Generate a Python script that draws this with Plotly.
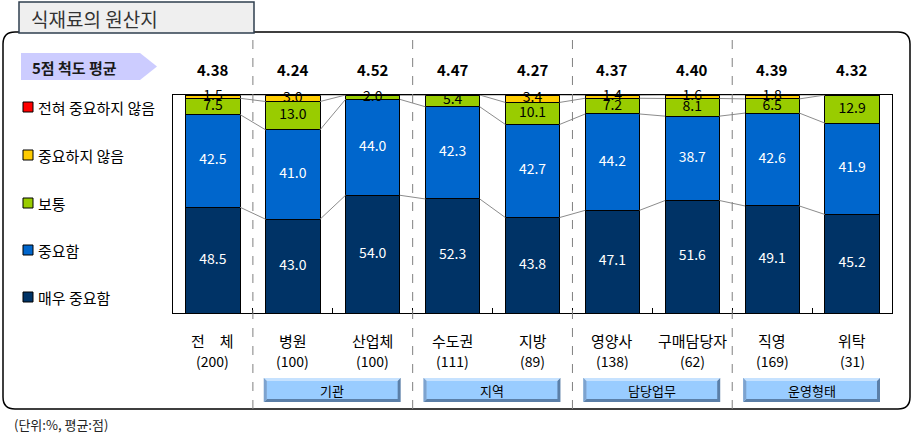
import plotly.graph_objects as go

# ---------------- data ----------------
categories = ["전　체", "병원", "산업체", "수도권", "지방", "영양사", "구매담당자", "직영", "위탁"]
counts = ["(200)", "(100)", "(100)", "(111)", "(89)", "(138)", "(62)", "(169)", "(31)"]
averages = [4.38, 4.24, 4.52, 4.47, 4.27, 4.37, 4.40, 4.39, 4.32]
very_important = [48.5, 43.0, 54.0, 52.3, 43.8, 47.1, 51.6, 49.1, 45.2]
important = [42.5, 41.0, 44.0, 42.3, 42.7, 44.2, 38.7, 42.6, 41.9]
neutral = [7.5, 13.0, 2.0, 5.4, 10.1, 7.2, 8.1, 6.5, 12.9]
not_important = [1.5, 3.0, 0.0, 0.0, 3.4, 1.4, 1.6, 1.8, 0.0]
not_at_all = [0.0, 0.0, 0.0, 0.0, 0.0, 0.0, 0.0, 0.0, 0.0]
series_names = ["매우 중요함", "중요함", "보통", "중요하지 않음", "전혀 중요하지 않음"]
group_names = ["기관", "지역", "담당업무", "운영형태"]
title_text = "식재료의 원산지"
avg_label = "5점 척도 평균"
unit_note = "(단위:%, 평균:점)"

series_values = [very_important, important, neutral, not_important, not_at_all]
colors = ["#003366", "#0066CC", "#99CC00", "#FFCC00", "#FF0000"]
text_colors = ["white", "white", "black", "black", "black"]

FONT = "Noto Sans CJK KR"
W, H = 913, 436
L, R, T, B = 173, 21, 95, 123
PW, PH = W - L - R, H - T - B
N = len(categories)
BAR_W = 0.68


def fx(p):
    return (p - L) / PW


def fy(p):
    return (T + PH - p) / PH


def dx(xd):  # data x -> paper x
    return (xd + 0.5) / N


fig = go.Figure()
xs = list(range(N))

for name, vals, col in zip(series_names, series_values, colors):
    fig.add_trace(go.Bar(x=xs, y=vals, name=name, width=BAR_W,
                         marker=dict(color=col, line=dict(color="black", width=1)),
                         hoverinfo="skip", showlegend=False))

# connector lines between bars
cum = []
run = [0.0] * N
for vals in series_values[:4]:
    run = [a + b for a, b in zip(run, vals)]
    cum.append(run)
cx, cy = [], []
for c in cum:
    for i in range(N - 1):
        cx += [i + BAR_W / 2, i + 1 - BAR_W / 2, None]
        cy += [c[i], c[i + 1], None]
fig.add_trace(go.Scatter(x=cx, y=cy, mode="lines", line=dict(color="#8c8c8c", width=1),
                         hoverinfo="skip", showlegend=False))

# value labels
base = [0.0] * N
for vals, tc in zip(series_values, text_colors):
    tx, ty, tt = [], [], []
    for i, v in enumerate(vals):
        if v > 0:
            tx.append(i)
            ty.append(base[i] + v / 2)
            tt.append(f"{v:.1f}")
    if tx:
        fig.add_trace(go.Scatter(x=tx, y=ty, text=tt, mode="text",
                                 textfont=dict(family=FONT, size=14, color=tc),
                                 cliponaxis=False, hoverinfo="skip", showlegend=False))
    base = [b + v for b, v in zip(base, vals)]

shapes = []
ann = []

# outer rounded frame
x0, x1, y0, y1 = fx(3), fx(910), fy(409), fy(32)
rx, ry = 12 / PW, 12 / PH
path = (f"M {x0},{y1-ry} Q {x0},{y1} {x0+rx},{y1} L {x1-rx},{y1} Q {x1},{y1} {x1},{y1-ry} "
        f"L {x1},{y0+ry} Q {x1},{y0} {x1-rx},{y0} L {x0+rx},{y0} Q {x0},{y0} {x0},{y0+ry} Z")
shapes.append(dict(type="path", xref="paper", yref="paper", path=path,
                   line=dict(color="black", width=1.5), fillcolor="rgba(0,0,0,0)", layer="below"))

# title box
shapes.append(dict(type="rect", xref="paper", yref="paper", x0=fx(19), x1=fx(254), y0=fy(33), y1=fy(2),
                   fillcolor="#EFEFEF", line=dict(color="#2F3F4F", width=1.5)))
ann.append(dict(xref="paper", yref="paper", x=fx(29), y=fy(18), xanchor="left", yanchor="middle",
                text=title_text, showarrow=False, font=dict(family=FONT, size=19, color="#333333")))

# pentagon for average label
pp = (f"M {fx(21)},{fy(53)} L {fx(140)},{fy(53)} L {fx(157)},{fy(66.5)} L {fx(140)},{fy(80)} "
      f"L {fx(21)},{fy(80)} Z")
shapes.append(dict(type="path", xref="paper", yref="paper", path=pp, fillcolor="#CCCCFF",
                   line=dict(width=0)))
ann.append(dict(xref="paper", yref="paper", x=fx(30), y=fy(67), xanchor="left", yanchor="middle",
                text=f"<b>{avg_label}</b>", showarrow=False, font=dict(family=FONT, size=15, color="#1a1a1a")))

# averages
for i, a in enumerate(averages):
    ann.append(dict(xref="x", yref="paper", x=i, y=fy(69), text=f"<b>{a:.2f}</b>", showarrow=False,
                    xanchor="center", yanchor="middle", font=dict(family=FONT, size=15, color="black")))

# legend (top to bottom)
leg_y = [107, 155, 203, 250, 297]
for yy, name, col in zip(leg_y, series_names[::-1], colors[::-1]):
    shapes.append(dict(type="rect", xref="paper", yref="paper", x0=fx(23), x1=fx(33),
                       y0=fy(yy + 5), y1=fy(yy - 5), fillcolor=col, line=dict(color="black", width=1)))
    ann.append(dict(xref="paper", yref="paper", x=fx(36), y=fy(yy), xanchor="left", yanchor="middle",
                    text=name, showarrow=False, font=dict(family=FONT, size=15, color="black")))

# category labels
for i, (c, n) in enumerate(zip(categories, counts)):
    ann.append(dict(xref="x", yref="paper", x=i, y=fy(340), text=c, showarrow=False,
                    xanchor="center", yanchor="middle", font=dict(family=FONT, size=15, color="black")))
    ann.append(dict(xref="x", yref="paper", x=i, y=fy(361), text=n, showarrow=False,
                    xanchor="center", yanchor="middle", font=dict(family=FONT, size=14, color="black")))

# dashed separators
for k in range(len(group_names)):
    xb = dx(2 * k + 0.5)
    shapes.append(dict(type="line", xref="paper", yref="paper", x0=xb, x1=xb, y0=fy(40), y1=fy(409),
                       line=dict(color="#808080", width=1, dash="dash")))

# group buttons
for k, g in enumerate(group_names):
    bx0 = dx(2 * k + 0.5) + 11 / PW
    bx1 = dx(2 * k + 2.5) - 12 / PW
    by0, by1 = fy(402), fy(378)
    bw, bh = 3 / PW, 3 / PH
    shapes.append(dict(type="rect", xref="paper", yref="paper", x0=bx0, x1=bx1, y0=by0, y1=by1,
                       fillcolor="#5B7FA8", line=dict(width=0)))
    tl = (f"M {bx0},{by0} L {bx0},{by1} L {bx1},{by1} L {bx1-bw},{by1-bh} L {bx0+bw},{by1-bh} "
          f"L {bx0+bw},{by0+bh} Z")
    shapes.append(dict(type="path", xref="paper", yref="paper", path=tl, fillcolor="#C6E2FF",
                       line=dict(width=0)))
    lf = f"M {bx0},{by0} L {bx0},{by1} L {bx0+bw},{by1-bh} L {bx0+bw},{by0+bh} Z"
    shapes.append(dict(type="path", xref="paper", yref="paper", path=lf, fillcolor="#7DA3CF",
                       line=dict(width=0)))
    shapes.append(dict(type="rect", xref="paper", yref="paper", x0=bx0 + bw, x1=bx1 - bw,
                       y0=by0 + bh, y1=by1 - bh, fillcolor="#99CCFF", line=dict(width=0)))
    ann.append(dict(xref="paper", yref="paper", x=(bx0 + bx1) / 2, y=(by0 + by1) / 2, text=g,
                    showarrow=False, xanchor="center", yanchor="middle",
                    font=dict(family=FONT, size=13, color="black")))

# unit note
ann.append(dict(xref="paper", yref="paper", x=fx(12), y=fy(424), xanchor="left", yanchor="middle",
                text=unit_note, showarrow=False, font=dict(family=FONT, size=13, color="#222222")))

fig.update_layout(
    barmode="stack",
    width=W, height=H,
    margin=dict(l=L, r=R, t=T, b=B, pad=0),
    paper_bgcolor="white", plot_bgcolor="white",
    showlegend=False,
    shapes=shapes, annotations=ann,
    font=dict(family=FONT),
    xaxis=dict(range=[-0.5, N - 0.5], showgrid=False, zeroline=False,
               tickvals=[i + 0.5 for i in range(N - 1)], ticks="inside", ticklen=5,
               tickcolor="black", showticklabels=False,
               showline=True, linecolor="black", linewidth=1, mirror=True, fixedrange=True),
    yaxis=dict(range=[0, 100], showgrid=False, zeroline=False, showticklabels=False,
               ticks="", showline=True, linecolor="black", linewidth=1, mirror=True, fixedrange=True),
)

fig.write_html("out.html", config={"displayModeBar": False})
